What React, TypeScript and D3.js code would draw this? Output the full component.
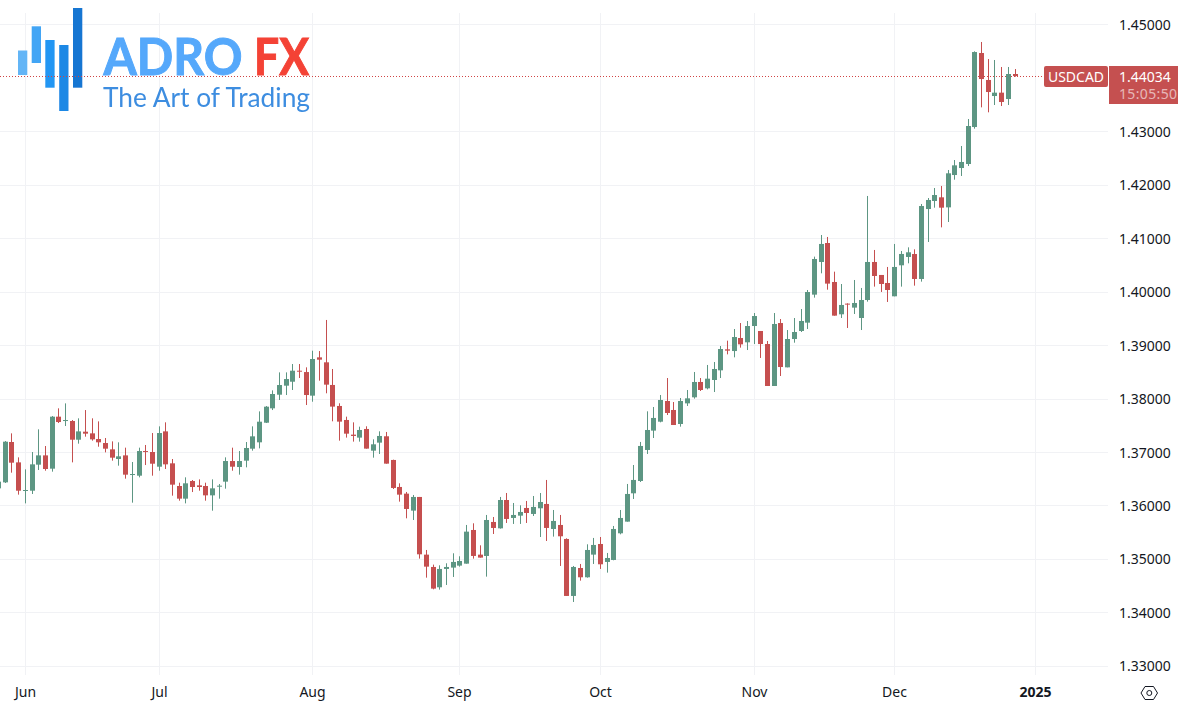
import { useEffect, useRef } from "react";
import * as d3 from "d3";

// daily USDCAD candles
const opens = [
  1.3632, 1.36432, 1.37187, 1.36806, 1.36276, 1.36276, 1.36763, 1.36937, 1.36688, 1.37661,
  1.37586, 1.3758, 1.3723, 1.3738, 1.37349, 1.37243, 1.37168, 1.3705, 1.36869, 1.36937,
  1.36576, 1.36557, 1.37018, 1.37, 1.36725, 1.37386, 1.36788, 1.36364, 1.36127, 1.36457,
  1.36376, 1.36364, 1.36189, 1.36357, 1.36445, 1.36831, 1.36719, 1.36838, 1.37062, 1.37181,
  1.37548, 1.37817, 1.38072, 1.38241, 1.38315, 1.38521, 1.38496, 1.38054, 1.38771, 1.38678,
  1.38254, 1.37861, 1.37599, 1.37325, 1.37269, 1.37431, 1.37025, 1.37175, 1.37294, 1.36851,
  1.36346, 1.36221, 1.35903, 1.36159, 1.3508, 1.34849, 1.34469, 1.34812, 1.34837, 1.34874,
  1.34911, 1.35541, 1.3508, 1.35055, 1.35691, 1.35572, 1.36102, 1.35766, 1.35809, 1.35953,
  1.35841, 1.35947, 1.36028, 1.3556, 1.35635, 1.35373, 1.34307, 1.3483, 1.34656, 1.3508,
  1.35279, 1.34943, 1.3498, 1.35479, 1.35697, 1.36227, 1.36458, 1.37038, 1.374, 1.37567,
  1.37954, 1.37786, 1.37524, 1.3791, 1.38023, 1.3831, 1.38191, 1.38347, 1.38528, 1.38921,
  1.38889, 1.39133, 1.39052, 1.39357, 1.39264, 1.3902, 1.38235, 1.39413, 1.38584, 1.39114,
  1.39264, 1.3942, 1.39944, 1.40555, 1.4091, 1.40181, 1.39576, 1.39776, 1.39701, 1.39507,
  1.39844, 1.40555, 1.40312, 1.40162, 1.39913, 1.40493, 1.40649, 1.40704, 1.40237, 1.41546,
  1.41696, 1.41765, 1.41577, 1.42182, 1.42313, 1.42388, 1.4308, 1.44465, 1.4396, 1.4366,
  1.43723, 1.43604, 1.44072,
];
const highs = [
  1.36476, 1.37205, 1.37349, 1.369, 1.36675, 1.37, 1.37424, 1.37112, 1.37673, 1.37817,
  1.3791, 1.37598, 1.3763, 1.37785, 1.3763, 1.37573, 1.37262, 1.37199, 1.37181, 1.37081,
  1.36813, 1.37081, 1.37131, 1.37355, 1.3748, 1.37555, 1.36869, 1.36426, 1.36526, 1.36476,
  1.36488, 1.36426, 1.36488, 1.36401, 1.369, 1.37081, 1.37018, 1.37187, 1.3748, 1.3776,
  1.3786, 1.38153, 1.3849, 1.3849, 1.38646, 1.38646, 1.38584, 1.38895, 1.38889, 1.3947,
  1.38553, 1.37911, 1.37661, 1.37555, 1.37474, 1.37481, 1.37237, 1.37387, 1.37375, 1.36857,
  1.36414, 1.36252, 1.36196, 1.36159, 1.35167, 1.34893, 1.3488, 1.34918, 1.35105, 1.35049,
  1.35635, 1.35666, 1.35254, 1.35822, 1.35784, 1.36159, 1.36233, 1.36046, 1.36003, 1.36084,
  1.36177, 1.36233, 1.36477, 1.35915, 1.35822, 1.35385, 1.34868, 1.34905, 1.35273, 1.35392,
  1.3541, 1.35111, 1.35616, 1.35915, 1.36402, 1.36757, 1.37188, 1.37761, 1.37842, 1.38066,
  1.38384, 1.37935, 1.3801, 1.3816, 1.38497, 1.38384, 1.38628, 1.38684, 1.38983, 1.39083,
  1.39301, 1.39413, 1.39451, 1.396, 1.39264, 1.39077, 1.396, 1.39488, 1.39282, 1.39507,
  1.39675, 1.40031, 1.40655, 1.4106, 1.41023, 1.40374, 1.40143, 1.39782, 1.40218, 1.40069,
  1.4179, 1.4078, 1.40312, 1.40462, 1.40892, 1.40761, 1.40829, 1.40792, 1.4164, 1.41752,
  1.41939, 1.41977, 1.42276, 1.42463, 1.42725, 1.4323, 1.44496, 1.44671, 1.44352, 1.44334,
  1.44203, 1.44203, 1.44165,
];
const lows = [
  1.36289, 1.3642, 1.36613, 1.36202, 1.36039, 1.36214, 1.36663, 1.3665, 1.36632, 1.37542,
  1.37486, 1.36806, 1.37156, 1.37287, 1.37212, 1.37099, 1.36993, 1.36838, 1.36744, 1.36501,
  1.36052, 1.36526, 1.36756, 1.36557, 1.3665, 1.36682, 1.36183, 1.36089, 1.36039, 1.36251,
  1.36276, 1.36089, 1.35902, 1.36127, 1.36314, 1.3665, 1.36576, 1.36713, 1.37025, 1.37068,
  1.37542, 1.37785, 1.37973, 1.38066, 1.3816, 1.38384, 1.37879, 1.37941, 1.38334, 1.38098,
  1.37574, 1.37212, 1.37269, 1.37194, 1.37194, 1.37063, 1.36894, 1.36963, 1.36782, 1.36308,
  1.36071, 1.35759, 1.35728, 1.35005, 1.34649, 1.34431, 1.34425, 1.34512, 1.34662, 1.34855,
  1.34911, 1.35005, 1.35024, 1.34668, 1.35466, 1.35566, 1.35672, 1.35654, 1.35654, 1.35672,
  1.35803, 1.3541, 1.35335, 1.35417, 1.34868, 1.34307, 1.34194, 1.34593, 1.34649, 1.34905,
  1.34812, 1.34743, 1.34974, 1.3546, 1.35697, 1.36121, 1.36439, 1.36963, 1.37262, 1.37555,
  1.37692, 1.37505, 1.37474, 1.37861, 1.37998, 1.38141, 1.38172, 1.38122, 1.38384, 1.38827,
  1.38771, 1.38952, 1.38908, 1.3902, 1.38759, 1.38235, 1.38235, 1.38422, 1.38584, 1.39045,
  1.39245, 1.39301, 1.39888, 1.40343, 1.40037, 1.39551, 1.39507, 1.3932, 1.39582, 1.39282,
  1.39813, 1.40094, 1.39994, 1.39807, 1.39913, 1.40094, 1.4053, 1.40112, 1.40187, 1.40929,
  1.41571, 1.41203, 1.41303, 1.42095, 1.42164, 1.42351, 1.43049, 1.43448, 1.43355, 1.43492,
  1.43473, 1.43492, 1.44022,
];
const closes = [
  1.36445, 1.37193, 1.368, 1.36276, 1.36289, 1.36769, 1.36937, 1.36682, 1.37661, 1.37561,
  1.37598, 1.3723, 1.37386, 1.37343, 1.37237, 1.37181, 1.37062, 1.36894, 1.36919, 1.36576,
  1.36588, 1.37018, 1.37006, 1.36781, 1.37355, 1.36769, 1.36389, 1.36127, 1.36414, 1.36345,
  1.36345, 1.36189, 1.3632, 1.3637, 1.36831, 1.36725, 1.36831, 1.37075, 1.37293, 1.37567,
  1.37848, 1.38085, 1.38253, 1.38365, 1.38521, 1.38509, 1.38066, 1.3874, 1.38727, 1.3826,
  1.37849, 1.37568, 1.37343, 1.373, 1.37412, 1.37063, 1.37144, 1.373, 1.36782, 1.36327,
  1.36202, 1.35934, 1.36159, 1.35086, 1.34855, 1.34444, 1.34812, 1.34849, 1.34943, 1.34961,
  1.3551, 1.35055, 1.35024, 1.35728, 1.35579, 1.36102, 1.35747, 1.35822, 1.35878, 1.35859,
  1.35972, 1.36065, 1.35579, 1.3571, 1.35423, 1.34307, 1.34849, 1.34656, 1.35167, 1.35261,
  1.34899, 1.35017, 1.3556, 1.35766, 1.36215, 1.36477, 1.37113, 1.37412, 1.37637, 1.37973,
  1.3773, 1.37505, 1.37954, 1.38004, 1.3831, 1.3816, 1.38372, 1.38553, 1.38927, 1.38896,
  1.39151, 1.39014, 1.39357, 1.39544, 1.3902, 1.38235, 1.39395, 1.3859, 1.39114, 1.39245,
  1.39451, 1.39993, 1.40611, 1.40892, 1.4015, 1.39551, 1.39751, 1.39763, 1.39788, 1.39844,
  1.40555, 1.40293, 1.40143, 1.40031, 1.40462, 1.40705, 1.40736, 1.40237, 1.41602, 1.41715,
  1.41808, 1.41571, 1.42214, 1.42363, 1.42426, 1.43099, 1.44483, 1.43978, 1.43735, 1.43723,
  1.43548, 1.44072, 1.44034,
];

const priceTicks = [1.33, 1.34, 1.35, 1.36, 1.37, 1.38, 1.39, 1.4, 1.41, 1.42, 1.43, 1.45];
const monthLabels = ["Jun", "Jul", "Aug", "Sep", "Oct", "Nov", "Dec", "2025"];
const monthBars = [4, 24, 47, 69, 90, 113, 134, 155];

const lastPrice = 1.44034;
const symbolName = "USDCAD";
const countdown = "15:05:50";

const upColor = "#5d9683";
const downColor = "#c55050";
const gridColor = "#f1f2f5";
const textColor = "#131722";
const axisFont = "'Noto Sans', sans-serif";

const logoBars = [
  { x: 18, y: 50.5, h: 24.5, fill: "#64b5f6" },
  { x: 31.7, y: 26.3, h: 36.7, fill: "#42a5f5" },
  { x: 45.3, y: 40, h: 47.7, fill: "#2196f3" },
  { x: 59.2, y: 45, h: 66, fill: "#1e88e5" },
  { x: 73, y: 8, h: 79.7, fill: "#1976d2" },
];

export default function App() {
  const svgRef = useRef<SVGSVGElement>(null);

  useEffect(() => {
    if (!svgRef.current) return;

    const width = 1178;
    const height = 708;
    const plotRight = 1108;
    const plotTop = 13;
    const plotBottom = 675;

    const svg = d3.select(svgRef.current);
    svg.selectAll("*").remove();

    const x = d3.scaleLinear().domain([0, opens.length - 1]).range([-1.4, 1015]);
    const y = d3.scaleLinear().domain([1.33, 1.45]).range([665.8, 24.4]);
    const candles = d3.range(opens.length);

    svg.append("rect").attr("width", width).attr("height", height).attr("fill", "#ffffff");

    // the reference is a slightly resampled screenshot
    svg.append("defs")
      .append("filter")
      .attr("id", "soft")
      .append("feGaussianBlur")
      .attr("stdDeviation", 0.35);

    // Grid
    svg.selectAll(".h-grid")
      .data(priceTicks)
      .join("line")
      .attr("class", "h-grid")
      .attr("x1", 0)
      .attr("x2", plotRight)
      .attr("y1", (d) => Math.round(y(d)) + 0.5)
      .attr("y2", (d) => Math.round(y(d)) + 0.5)
      .attr("stroke", gridColor);

    svg.selectAll(".v-grid")
      .data(monthBars)
      .join("line")
      .attr("class", "v-grid")
      .attr("x1", (d) => Math.floor(x(d)) + 0.5)
      .attr("x2", (d) => Math.floor(x(d)) + 0.5)
      .attr("y1", plotTop)
      .attr("y2", plotBottom)
      .attr("stroke", gridColor);

    // Logo
    const logo = svg.append("g").attr("filter", "url(#soft)");
    logo.selectAll("rect")
      .data(logoBars)
      .join("rect")
      .attr("x", (d) => d.x)
      .attr("y", (d) => d.y)
      .attr("width", 9.3)
      .attr("height", (d) => d.h)
      .attr("fill", (d) => d.fill);
    logo.append("text")
      .attr("x", 103.5)
      .attr("y", 75)
      .attr("font-family", "Lato, sans-serif")
      .attr("font-size", 52)
      .attr("font-weight", 700)
      .attr("fill", "#54a8fb")
      .attr("stroke", "#54a8fb")
      .attr("stroke-width", 1)
      .attr("textLength", 139)
      .attr("lengthAdjust", "spacingAndGlyphs")
      .text("ADRO");
    logo.append("text")
      .attr("x", 254)
      .attr("y", 75)
      .attr("font-family", "Lato, sans-serif")
      .attr("font-size", 52)
      .attr("font-weight", 700)
      .attr("fill", "#f44336")
      .attr("stroke", "#f44336")
      .attr("stroke-width", 1)
      .attr("textLength", 55)
      .attr("lengthAdjust", "spacingAndGlyphs")
      .text("FX");
    logo.append("text")
      .attr("x", 103)
      .attr("y", 107)
      .attr("font-family", "Lato, sans-serif")
      .attr("font-size", 26)
      .attr("font-weight", 400)
      .attr("fill", "#3d8de0")
      .attr("textLength", 207)
      .attr("lengthAdjust", "spacingAndGlyphs")
      .text("The Art of Trading");

    // Last price line
    svg.append("line")
      .attr("x1", 0)
      .attr("x2", 1044)
      .attr("y1", Math.floor(y(lastPrice)) + 0.5)
      .attr("y2", Math.floor(y(lastPrice)) + 0.5)
      .attr("stroke", "#d04545")
      .attr("stroke-dasharray", "1,2");

    // Candles
    const color = (i: number) => (closes[i] >= opens[i] ? upColor : downColor);
    const candleLayer = svg.append("g").attr("filter", "url(#soft)");

    candleLayer.selectAll(".wick")
      .data(candles)
      .join("line")
      .attr("class", "wick")
      .attr("x1", (i) => Math.floor(x(i)) + 0.5)
      .attr("x2", (i) => Math.floor(x(i)) + 0.5)
      .attr("y1", (i) => y(highs[i]))
      .attr("y2", (i) => y(lows[i]))
      .attr("stroke", color);

    candleLayer.selectAll(".body")
      .data(candles)
      .join("rect")
      .attr("class", "body")
      .attr("x", (i) => Math.floor(x(i)) - 2)
      .attr("width", 5)
      .attr("y", (i) => y(Math.max(opens[i], closes[i])))
      .attr("height", (i) => Math.max(1, Math.abs(y(opens[i]) - y(closes[i]))))
      .attr("fill", color);

    // Price axis
    svg.selectAll(".price-label")
      .data(priceTicks)
      .join("text")
      .attr("class", "price-label")
      .attr("x", 1119)
      .attr("y", (d) => y(d) + 5.5)
      .attr("font-family", axisFont)
      .attr("font-size", 14)
      .attr("fill", textColor)
      .text((d) => d.toFixed(5));

    // Time axis
    svg.selectAll(".month-label")
      .data(monthBars)
      .join("text")
      .attr("class", "month-label")
      .attr("x", (d) => Math.floor(x(d)) + 0.5)
      .attr("y", 697)
      .attr("text-anchor", "middle")
      .attr("font-family", axisFont)
      .attr("font-size", 14)
      .attr("font-weight", (_, i) => (monthLabels[i] === "2025" ? 700 : 400))
      .attr("fill", textColor)
      .text((_, i) => monthLabels[i]);

    // Symbol and price tags
    svg.append("rect")
      .attr("x", 1044)
      .attr("y", 66)
      .attr("width", 64)
      .attr("height", 21)
      .attr("rx", 2)
      .attr("fill", downColor);
    svg.append("text")
      .attr("x", 1076)
      .attr("y", 82)
      .attr("text-anchor", "middle")
      .attr("font-family", axisFont)
      .attr("font-size", 14)
      .attr("fill", "#ffffff")
      .text(symbolName);
    svg.append("rect")
      .attr("x", 1109)
      .attr("y", 66)
      .attr("width", 69)
      .attr("height", 38)
      .attr("fill", downColor);
    svg.append("text")
      .attr("x", 1119)
      .attr("y", 82)
      .attr("font-family", axisFont)
      .attr("font-size", 14)
      .attr("fill", "#ffffff")
      .text(lastPrice.toFixed(5));
    svg.append("text")
      .attr("x", 1119)
      .attr("y", 99)
      .attr("font-family", axisFont)
      .attr("font-size", 14)
      .attr("fill", "#ffffff")
      .attr("fill-opacity", 0.6)
      .attr("textLength", 58)
      .text(countdown);

    // Settings icon
    const hex = d3.line()([
      [1141, 693],
      [1145, 686.5],
      [1153.5, 686.5],
      [1157.5, 693],
      [1153.5, 699.5],
      [1145, 699.5],
    ]);
    svg.append("path")
      .attr("d", hex + "Z")
      .attr("fill", "none")
      .attr("stroke", textColor);
    svg.append("circle")
      .attr("cx", 1149.3)
      .attr("cy", 693)
      .attr("r", 2.5)
      .attr("fill", "none")
      .attr("stroke", textColor);
  }, []);

  return (
    <svg
      ref={svgRef}
      width={1178}
      height={708}
      style={{ position: "absolute", left: 0, top: 0, display: "block" }}
    />
  );
}
